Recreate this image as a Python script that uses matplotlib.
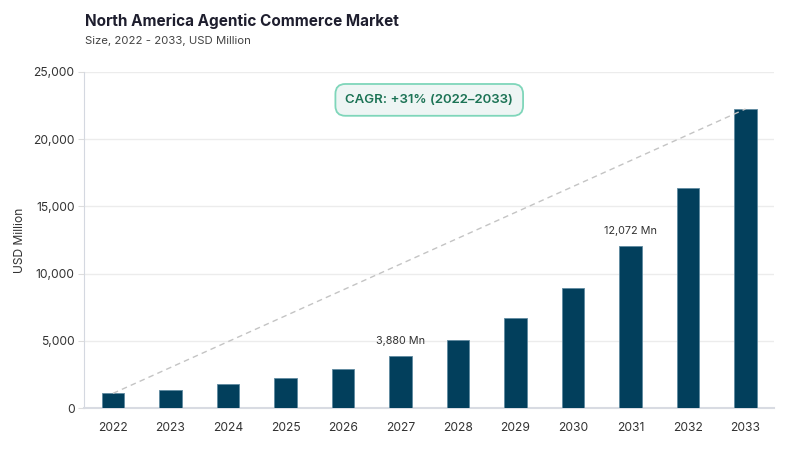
import matplotlib
matplotlib.use("Agg")
import matplotlib.pyplot as plt
from matplotlib.ticker import FuncFormatter

years = ["2022", "2023", "2024", "2025", "2026", "2027", "2028", "2029", "2030", "2031", "2032", "2033"]
values = [1090, 1360, 1760, 2260, 2920, 3880, 5060, 6700, 8950, 12072, 16370, 22250]
labeled = {"2027": "3,880 Mn", "2031": "12,072 Mn"}
title = "North America Agentic Commerce Market"
subtitle = "Size, 2022 - 2033, USD Million"
cagr_text = "CAGR: +31% (2022–2033)"
y_ticks = [0, 5000, 10000, 15000, 20000, 25000]

plt.rcParams['font.family'] = ['Inter', 'DejaVu Sans']

fig = plt.figure(figsize=(8, 4.5), dpi=100)
ax = fig.add_axes([0.1053, 0.0933, 0.8625, 0.7467])

x = list(range(len(years)))
ax.bar(x, values, width=0.39, color="#023f5c", edgecolor="#5f8aa0", linewidth=0.6, zorder=3)

ax.plot([x[0], x[-1]], [values[0], values[-1]], linestyle=(0, (4, 3)), color="#c4c4c4", linewidth=1, zorder=4)

for i, y in enumerate(years):
    if y in labeled:
        ax.annotate(labeled[y], (x[i], values[i]), xytext=(0, 7), textcoords="offset points",
                    ha="center", va="bottom", fontsize=7.8, color="#333333", zorder=5)

ax.set_xlim(-0.5, len(years) - 0.5)
ax.set_ylim(0, 25000)
ax.set_yticks(y_ticks)
ax.yaxis.set_major_formatter(FuncFormatter(lambda v, p: f"{int(v):,}"))
ax.set_xticks(x)
ax.set_xticklabels(years)
ax.tick_params(axis="x", length=0, pad=10, labelsize=8.7, colors="#333333")
ax.tick_params(axis="y", length=4, width=0.8, color="#dddddd", pad=3, labelsize=8.7, colors="#333333")
ax.grid(axis="y", color="#ececec", linewidth=1, zorder=0)
for s in ["top", "right"]:
    ax.spines[s].set_visible(False)
ax.spines["left"].set_color("#d4d8e0")
ax.spines["left"].set_linewidth(0.8)
ax.spines["bottom"].set_color("#d8dbe2")
ax.spines["bottom"].set_linewidth(1.5)
ax.set_ylabel("USD Million", fontsize=8.7, color="#333333", labelpad=5)

ax.text(0.5, 0.917, cagr_text, transform=ax.transAxes, ha="center", va="center", fontsize=9.5,
        color="#1c7355", fontweight="semibold",
        bbox=dict(boxstyle="round,pad=0.75,rounding_size=0.75", facecolor="#eef5f4", edgecolor="#7fd6ba", linewidth=1.3),
        zorder=6)

fig.text(0.106, 0.953, title, fontsize=11, fontweight="bold", color="#1e1e2e", ha="left", va="center")
fig.text(0.106, 0.908, subtitle, fontsize=8.2, color="#444444", ha="left", va="center")

fig.savefig("out.png", dpi=100, facecolor="white")
